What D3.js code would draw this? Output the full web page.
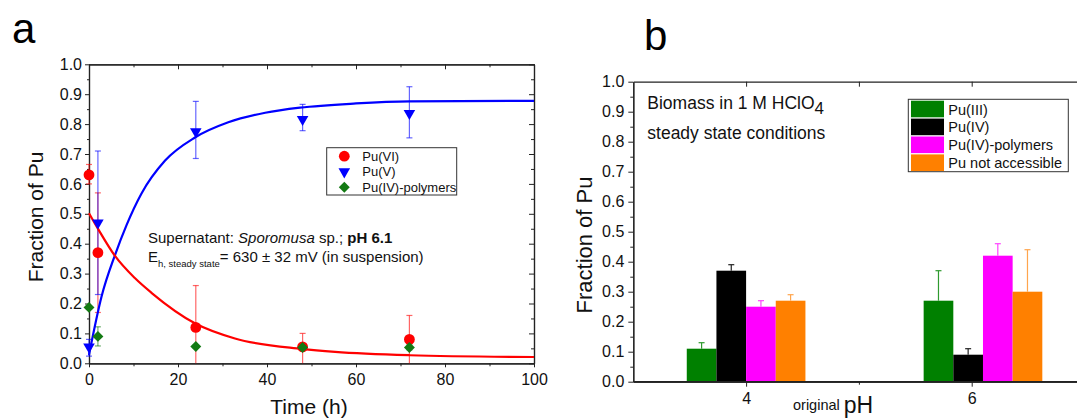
<!DOCTYPE html>
<html>
<head>
<meta charset="utf-8">
<script src="https://cdn.jsdelivr.net/npm/d3@7"></script>
<style>
  body { margin: 0; background: #fff; }
  svg { display: block; }
  text { font-family: "Liberation Sans", Arial, sans-serif; }
</style>
</head>
<body>
<svg id="chart" width="1077" height="418"></svg>
<script>
// ---- data, panel a (time course) ----
const timeH = [0, 2, 24, 48, 72];

const puVI = [0.63, 0.37, 0.12, 0.055, 0.08];
const puVILow = [0.60, 0.17, 0.0, 0.0, 0.0];
const puVIHigh = [0.665, 0.57, 0.26, 0.10, 0.16];

const puV = [0.055, 0.47, 0.775, 0.816, 0.836];
const puVLow = [0.024, 0.23, 0.685, 0.778, 0.754];
const puVHigh = [0.08, 0.71, 0.876, 0.866, 0.925];

const puPoly = [0.187, 0.09, 0.056, 0.053, 0.053];
const puPolyLow = [0.187, 0.058, 0.05, 0.045, 0.045];
const puPolyHigh = [0.187, 0.122, 0.062, 0.062, 0.062];

// fitted curves, points
const fitTimeVI = [0, 2.1, 5.8, 10.3, 14.1, 23.8, 32.8, 47.8, 55.3, 72, 100];
const fitVI = [0.502, 0.448, 0.36, 0.285, 0.235, 0.134, 0.083, 0.048, 0.038, 0.027, 0.021];
const fitTimeV = [0, 2.85, 5.84, 8.46, 11.8, 17.1, 23.8, 31.3, 39.6, 47.4, 60, 72, 100];
const fitV = [0.028, 0.225, 0.362, 0.463, 0.568, 0.678, 0.755, 0.806, 0.838, 0.855, 0.869, 0.876, 0.878];

const legendA = ['Pu(VI)', 'Pu(V)', 'Pu(IV)-polymers'];

// ---- data, panel b (steady state by pH) ----
const phValues = [4, 6.1];
const phTicks = [4, 6];
const speciesB = ['Pu(III)', 'Pu(IV)', 'Pu(IV)-polymers', 'Pu not accessible'];
const puIII = [0.11, 0.27];
const puIIIErr = [0.02, 0.10];
const puIV = [0.37, 0.09];
const puIVErr = [0.02, 0.02];
const puIVPoly = [0.25, 0.42];
const puIVPolyErr = [0.02, 0.04];
const puNotAcc = [0.27, 0.30];
const puNotAccErr = [0.02, 0.14];

const svg = d3.select('#chart');
const font = '"Liberation Sans", Arial, sans-serif';

function styleAxis(g, size) {
    g.select('.domain').attr('stroke', '#222').attr('stroke-width', 1.2);
    g.selectAll('.tick line').attr('stroke', '#222').attr('stroke-width', 1);
    g.selectAll('.tick text')
        .attr('font-family', font)
        .attr('font-size', size)
        .attr('fill', '#111');
}

// panel letters
svg.append('text').attr('x', 12).attr('y', 43)
    .attr('font-family', '"Noto Sans", "Open Sans", sans-serif')
    .attr('font-size', 42).text('a');
svg.append('text').attr('x', 644).attr('y', 50)
    .attr('font-family', '"Noto Sans", "Open Sans", sans-serif')
    .attr('font-size', 42).text('b');

// ================= Panel a =================
const xa = d3.scaleLinear().domain([0, 100]).range([89, 534]);
const ya = d3.scaleLinear().domain([0, 1]).range([363.3, 64.3]);
const majorYa = d3.range(0, 11).map(i => i / 10);
const minorYa = d3.range(0, 10).map(i => i / 10 + 0.05);

// left
svg.append('g').attr('transform', 'translate(89,0)')
    .call(d3.axisLeft(ya).tickValues(majorYa).tickFormat(d3.format('.1f')).tickSize(4).tickSizeOuter(0).tickPadding(3))
    .call(g => styleAxis(g, 16));
svg.append('g').attr('transform', 'translate(89,0)')
    .call(d3.axisLeft(ya).tickValues(minorYa).tickFormat('').tickSize(2).tickSizeOuter(0))
    .call(g => styleAxis(g, 16));
// bottom
svg.append('g').attr('transform', 'translate(0,363.3)')
    .call(d3.axisBottom(xa).tickValues([0, 20, 40, 60, 80, 100]).tickSize(4).tickSizeOuter(0).tickPadding(6))
    .call(g => styleAxis(g, 16));
svg.append('g').attr('transform', 'translate(0,363.3)')
    .call(d3.axisBottom(xa).tickValues([10, 30, 50, 70, 90]).tickFormat('').tickSize(3).tickSizeOuter(0))
    .call(g => styleAxis(g, 16));
// top (inward ticks)
svg.append('g').attr('transform', 'translate(0,64.3)')
    .call(d3.axisTop(xa).tickValues([0, 20, 40, 60, 80, 100]).tickFormat('').tickSize(-5).tickSizeOuter(0))
    .call(g => styleAxis(g, 16));
svg.append('g').attr('transform', 'translate(0,64.3)')
    .call(d3.axisTop(xa).tickValues([10, 30, 50, 70, 90]).tickFormat('').tickSize(-3).tickSizeOuter(0))
    .call(g => styleAxis(g, 16));
// right (inward ticks)
svg.append('g').attr('transform', 'translate(534,0)')
    .call(d3.axisRight(ya).tickValues(majorYa).tickFormat('').tickSize(-5).tickSizeOuter(0))
    .call(g => styleAxis(g, 16));
svg.append('g').attr('transform', 'translate(534,0)')
    .call(d3.axisRight(ya).tickValues(minorYa).tickFormat('').tickSize(-3).tickSizeOuter(0))
    .call(g => styleAxis(g, 16));

// axis titles
svg.append('text')
    .attr('transform', 'translate(43,217) rotate(-90)')
    .attr('text-anchor', 'middle').attr('font-size', 21).attr('fill', '#111')
    .text('Fraction of Pu');
svg.append('text')
    .attr('x', 309).attr('y', 414)
    .attr('text-anchor', 'middle').attr('font-size', 21).attr('fill', '#111')
    .text('Time (h)');

// series
const seriesA = [
    { name: legendA[0], color: '#ff0000', vals: puVI, lo: puVILow, hi: puVIHigh, sym: 'circle' },
    { name: legendA[1], color: '#0000ff', vals: puV, lo: puVLow, hi: puVHigh, sym: 'tri' },
    { name: legendA[2], color: '#137a13', vals: puPoly, lo: puPolyLow, hi: puPolyHigh, sym: 'diamond' }
];

// error bars
seriesA.forEach(s => {
    const g = svg.append('g')
        .attr('stroke', s.color).attr('stroke-opacity', 0.6).attr('stroke-width', 1.2);
    timeH.forEach((t, i) => {
        if (s.hi[i] - s.lo[i] < 0.001) return;
        const x = xa(t);
        g.append('line').attr('x1', x).attr('x2', x).attr('y1', ya(s.lo[i])).attr('y2', ya(s.hi[i]));
        g.append('line').attr('x1', x - 3).attr('x2', x + 3).attr('y1', ya(s.hi[i])).attr('y2', ya(s.hi[i]));
        if (s.lo[i] > 0) {
            g.append('line').attr('x1', x - 3).attr('x2', x + 3).attr('y1', ya(s.lo[i])).attr('y2', ya(s.lo[i]));
        }
    });
});

// fit curves
const fitLine = d3.line().curve(d3.curveMonotoneX).x(d => xa(d[0])).y(d => ya(d[1]));
svg.append('path')
    .datum(fitTimeV.map((t, i) => [t, fitV[i]]))
    .attr('fill', 'none').attr('stroke', '#0000ff').attr('stroke-width', 2.2)
    .attr('d', fitLine);
svg.append('path')
    .datum(fitTimeVI.map((t, i) => [t, fitVI[i]]))
    .attr('fill', 'none').attr('stroke', '#ff0000').attr('stroke-width', 2.2)
    .attr('d', fitLine);

// markers
function drawMarker(g, sym, x, y, color) {
    if (sym === 'circle') {
        g.append('circle').attr('cx', x).attr('cy', y).attr('r', 5.4).attr('fill', color);
    } else if (sym === 'tri') {
        g.append('path')
            .attr('d', d3.symbol().type(d3.symbolTriangle).size(58)())
            .attr('transform', `translate(${x},${y}) rotate(180)`)
            .attr('fill', color);
    } else {
        g.append('path')
            .attr('d', d3.symbol().type(d3.symbolSquare).size(60)())
            .attr('transform', `translate(${x},${y}) rotate(45)`)
            .attr('fill', color);
    }
}
seriesA.forEach(s => {
    const g = svg.append('g');
    timeH.forEach((t, i) => drawMarker(g, s.sym, xa(t), ya(s.vals[i]), s.color));
});

// legend a
const legA = svg.append('g');
legA.append('rect').attr('x', 326.7).attr('y', 147.7).attr('width', 130).attr('height', 47.3)
    .attr('fill', '#fff').attr('stroke', '#333').attr('stroke-width', 1);
seriesA.forEach((s, i) => {
    const cy = 156.2 + i * 15.5;
    drawMarker(legA, s.sym, 344.3, cy, s.color);
    legA.append('text').attr('x', 362.3).attr('y', cy + 4.6)
        .attr('font-size', 13).attr('fill', '#111').text(s.name);
});

// annotation a
const ann = svg.append('text').attr('x', 148).attr('y', 243).attr('font-size', 15).attr('fill', '#111');
ann.append('tspan').text('Supernatant: ');
ann.append('tspan').attr('font-style', 'italic').text('Sporomusa');
ann.append('tspan').text(' sp.; ');
ann.append('tspan').attr('font-weight', 'bold').text('pH 6.1');
const ann2 = svg.append('text').attr('x', 148).attr('y', 262).attr('font-size', 15).attr('fill', '#111');
ann2.append('tspan').text('E');
ann2.append('tspan').attr('font-size', 9.5).attr('dy', 4.5).text('h, steady state');
ann2.append('tspan').attr('dy', -4.5).text('= 630 \u00b1 32 mV (in suspension)');

// ================= Panel b =================
const xb = d3.scaleLinear().domain([3, 7]).range([633.3, 1084.5]);
const yb = d3.scaleLinear().domain([0, 1]).range([381.7, 81.7]);
const majorYb = d3.range(0, 11).map(i => i / 10);
const minorYb = d3.range(0, 10).map(i => i / 10 + 0.05);

svg.append('g').attr('transform', 'translate(633.3,0)')
    .call(d3.axisLeft(yb).tickValues(majorYb).tickFormat(d3.format('.1f')).tickSize(5).tickSizeOuter(0).tickPadding(4))
    .call(g => styleAxis(g, 16));
svg.append('g').attr('transform', 'translate(633.3,0)')
    .call(d3.axisLeft(yb).tickValues(minorYb).tickFormat('').tickSize(3).tickSizeOuter(0))
    .call(g => styleAxis(g, 16));
svg.append('g').attr('transform', 'translate(0,381.7)')
    .call(d3.axisBottom(xb).tickValues(phTicks).tickFormat(d3.format('d')).tickSize(5).tickSizeOuter(0).tickPadding(6))
    .call(g => styleAxis(g, 16));
svg.append('g').attr('transform', 'translate(0,381.7)')
    .call(d3.axisBottom(xb).tickValues([5]).tickFormat('').tickSize(3).tickSizeOuter(0))
    .call(g => styleAxis(g, 16));
svg.append('g').attr('transform', 'translate(0,81.7)')
    .call(d3.axisTop(xb).tickValues([4, 5, 6]).tickFormat('').tickSize(-5).tickSizeOuter(0))
    .call(g => styleAxis(g, 16));

svg.append('text')
    .attr('transform', 'translate(592,245) rotate(-90)')
    .attr('text-anchor', 'middle').attr('font-size', 22).attr('fill', '#111')
    .text('Fraction of Pu');
const xt = svg.append('text').attr('x', 793).attr('y', 410).attr('fill', '#111');
xt.append('tspan').attr('font-size', 14.5).text('original ');
xt.append('tspan').attr('font-size', 23).attr('dy', 2.5).text('pH');

const seriesB = [
    { name: speciesB[0], color: '#008000', err: '#2f9a2f', vals: puIII, e: puIIIErr },
    { name: speciesB[1], color: '#000000', err: '#222222', vals: puIV, e: puIVErr },
    { name: speciesB[2], color: '#ff00ff', err: '#ff44ff', vals: puIVPoly, e: puIVPolyErr },
    { name: speciesB[3], color: '#ff8000', err: '#ffa54d', vals: puNotAcc, e: puNotAccErr }
];
const barW = 0.263;

seriesB.forEach((s, k) => {
    const g = svg.append('g');
    phValues.forEach((ph, i) => {
        const x0 = xb(ph + (k - 2) * barW);
        const x1 = xb(ph + (k - 1) * barW);
        g.append('rect')
            .attr('x', x0).attr('y', yb(s.vals[i]))
            .attr('width', x1 - x0).attr('height', yb(0) - yb(s.vals[i]))
            .attr('fill', s.color);
        const cx = (x0 + x1) / 2;
        const top = yb(s.vals[i] + s.e[i]);
        g.append('line').attr('x1', cx).attr('x2', cx).attr('y1', yb(s.vals[i])).attr('y2', top)
            .attr('stroke', s.err).attr('stroke-width', 1.2);
        g.append('line').attr('x1', cx - 3).attr('x2', cx + 3).attr('y1', top).attr('y2', top)
            .attr('stroke', s.err).attr('stroke-width', 1.2);
    });
});

// redraw baseline over bars
svg.append('line').attr('x1', 633.3).attr('x2', 1077).attr('y1', yb(0)).attr('y2', yb(0))
    .attr('stroke', '#222').attr('stroke-width', 1.2);

// legend b
const legB = svg.append('g');
legB.append('rect').attr('x', 908.3).attr('y', 99.3).attr('width', 160).attr('height', 72.4)
    .attr('fill', '#fff').attr('stroke', '#333').attr('stroke-width', 1);
seriesB.forEach((s, i) => {
    const y0 = 100.7 + i * 17.9;
    legB.append('rect').attr('x', 911).attr('y', y0).attr('width', 33).attr('height', 16.6)
        .attr('fill', s.color);
    legB.append('text').attr('x', 948.3).attr('y', y0 + 13.8)
        .attr('font-size', 14.5).attr('fill', '#111').text(s.name);
});

// annotation b
const annB = svg.append('text').attr('x', 647.3).attr('y', 109).attr('font-size', 17.5).attr('fill', '#111');
annB.append('tspan').text('Biomass in 1 M HClO');
annB.append('tspan').attr('font-size', 17).attr('dy', 5).text('4');
svg.append('text').attr('x', 647.3).attr('y', 139.3).attr('font-size', 17.5).attr('fill', '#111')
    .text('steady state conditions');
</script>
</body>
</html>
